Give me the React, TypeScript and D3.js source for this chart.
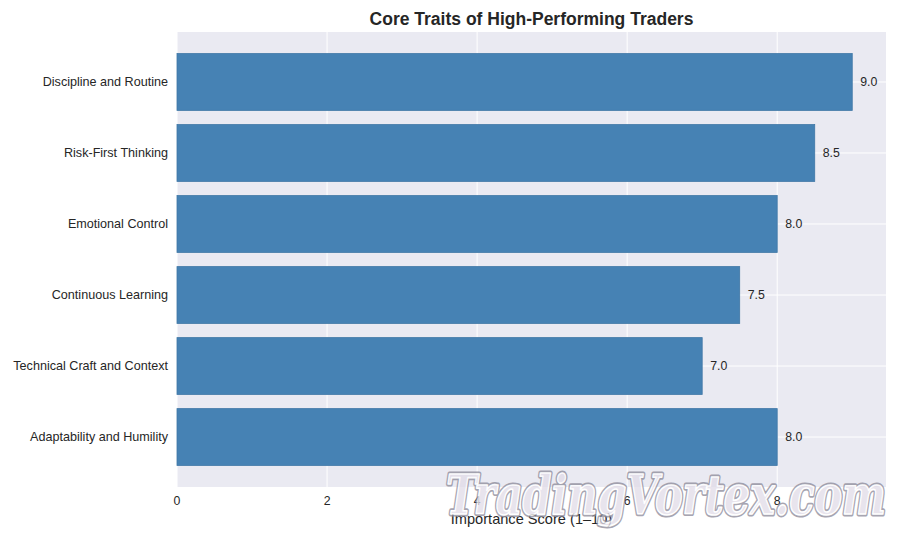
import { scaleLinear, scaleBand } from 'd3';

const traits = [
  'Discipline and Routine',
  'Risk-First Thinking',
  'Emotional Control',
  'Continuous Learning',
  'Technical Craft and Context',
  'Adaptability and Humility',
];
const scores = [9.0, 8.5, 8.0, 7.5, 7.0, 8.0];
const xTicks = [0, 2, 4, 6, 8];

const W = 900;
const H = 540;
const M = { top: 32, right: 14, bottom: 53, left: 177 };
const FONT = '"Liberation Sans", Arial, sans-serif';

const App = () => {
  const x = scaleLinear()
    .domain([0, 9.45])
    .range([M.left, W - M.right]);
  const y = scaleBand<string>()
    .domain(traits)
    .range([M.top, H - M.bottom])
    .paddingInner(0.2)
    .paddingOuter(0.304);

  return (
    <svg width={W} height={H} style={{ display: 'block', margin: -8 }} fontFamily={FONT}>
      <rect width={W} height={H} fill="#ffffff" />
      {/* plot background */}
      <rect
        x={M.left}
        y={M.top}
        width={W - M.right - M.left}
        height={H - M.bottom - M.top}
        fill="#eaeaf2"
      />
      {/* grid */}
      {xTicks.map((t) => (
        <line key={'gx' + t} x1={x(t)} x2={x(t)} y1={M.top} y2={H - M.bottom} stroke="#fff" strokeWidth={1} />
      ))}
      {traits.map((t) => (
        <line
          key={'gy' + t}
          x1={M.left}
          x2={W - M.right}
          y1={y(t)! + y.bandwidth() / 2}
          y2={y(t)! + y.bandwidth() / 2}
          stroke="#fff"
          strokeWidth={1}
        />
      ))}
      {/* bars */}
      {traits.map((t, i) => (
        <g key={'b' + t}>
          <rect
            x={x(0)}
            y={y(t)}
            width={x(scores[i]) - x(0)}
            height={y.bandwidth()}
            fill="#4682b4"
            stroke="#3f77a6"
            strokeWidth={0.8}
          />
          <text
            x={x(scores[i]) + 8}
            y={y(t)! + y.bandwidth() / 2}
            dy="0.35em"
            fontSize={12.3}
            fill="#262626"
          >
            {scores[i].toFixed(1)}
          </text>
          <text
            x={M.left - 9}
            y={y(t)! + y.bandwidth() / 2}
            dy="0.35em"
            fontSize={12.6}
            textAnchor="end"
            fill="#262626"
          >
            {t}
          </text>
        </g>
      ))}
      {/* x tick labels */}
      {xTicks.map((t) => (
        <text key={'tx' + t} x={x(t)} y={H - M.bottom + 18} fontSize={12.3} textAnchor="middle" fill="#262626">
          {t}
        </text>
      ))}
      <text x={(M.left + W - M.right) / 2} y={H - 16} fontSize={14.6} textAnchor="middle" fill="#262626">
        Importance Score (1–10)
      </text>
      <text x={(M.left + W - M.right) / 2} y={25} fontSize={17.5} fontWeight="bold" textAnchor="middle" fill="#262626">
        Core Traits of High-Performing Traders
      </text>
      {/* watermark */}
      <g opacity={0.78} fontFamily='"DejaVu Serif", serif' fontWeight="bold" fontStyle="italic" fontSize={54}>
        <text
          x={446}
          y={514}
          textLength={440}
          lengthAdjust="spacingAndGlyphs"
          fill="none"
          stroke="#8f8d9c"
          strokeWidth={5}
          strokeLinejoin="round"
        >
          TradingVortex.com
        </text>
        <text
          x={446}
          y={514}
          textLength={440}
          lengthAdjust="spacingAndGlyphs"
          fill="#e2dde9"
          stroke="#ffffff"
          strokeWidth={1.6}
          strokeLinejoin="round"
        >
          TradingVortex.com
        </text>
      </g>
    </svg>
  );
};

export default App;
